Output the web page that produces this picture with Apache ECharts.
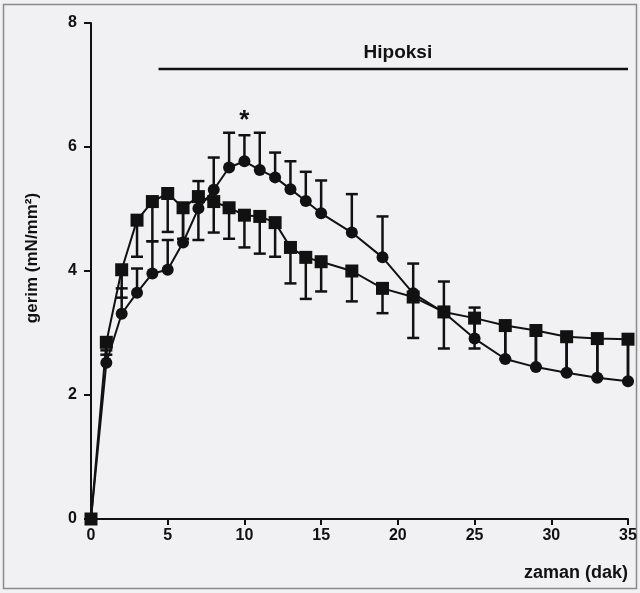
<!DOCTYPE html>
<html>
<head>
<meta charset="utf-8">
<script src="https://cdn.jsdelivr.net/npm/echarts@6/dist/echarts.min.js"></script>
<style>
html,body{margin:0;padding:0;background:#f1f1f3;}
#chart{width:640px;height:593px;}
</style>
</head>
<body>
<div id="chart"></div>
<script>
// time (minutes)
const timeMin = [0,1,2,3,4,5,6,7,8,9,10,11,12,13,14,15,17,19,21,23,25,27,29,31,33,35];
// square-marker series and its (downward) error
const squareVals = [0,2.85,4.02,4.82,5.12,5.25,5.02,5.2,5.12,5.02,4.9,4.88,4.78,4.38,4.22,4.15,4.0,3.72,3.58,3.34,3.24,3.12,3.04,2.94,2.91,2.90];
const squareErr  = [0,0.2,0.45,0.59,0.64,0.62,0.5,0.7,0.5,0.5,0.52,0.6,0.55,0.58,0.67,0.48,0.49,0.4,0.66,0.59,0.49,0.54,0.59,0.58,0.63,0.68];
// circle-marker series and its (upward) error
const circleVals = [0,2.52,3.31,3.65,3.96,4.02,4.46,5.01,5.31,5.67,5.77,5.63,5.51,5.32,5.13,4.93,4.62,4.22,3.64,3.33,2.91,2.58,2.45,2.36,2.28,2.22];
const circleErr  = [0,0.2,0.41,0.39,0.52,0.48,0.5,0.44,0.52,0.56,0.42,0.6,0.4,0.45,0.47,0.53,0.62,0.66,0.48,0.5,0.5,0.5,0.55,0.55,0.6,0.65];
// axis ticks
const xTicks = [0,5,10,15,20,25,30,35];
const yTicks = [0,2,4,6,8];
// annotations
const starPoint = [10, 6.42];
const hypoxiaLabel = 'Hipoksi';
const hypoxiaLabelPoint = [20, 7.52];
const hypoxiaBar = [[4.4, 7.26], [35, 7.26]];
const xName = 'zaman (dak)';
const yName = 'gerim (mN/mm²)';

const ink = '#111111';
const font = '"Liberation Sans", Arial, sans-serif';

const sqData = timeMin.map((t,i)=>[t, squareVals[i]]);
const ciData = timeMin.map((t,i)=>[t, circleVals[i]]);
const sqErrData = timeMin.map((t,i)=>[t, squareVals[i], squareVals[i]-squareErr[i]]);
const ciErrData = timeMin.map((t,i)=>[t, circleVals[i], circleVals[i]+circleErr[i]]);

function errRender(params, api){
  const x = api.value(0);
  const p0 = api.coord([x, api.value(1)]);
  const p1 = api.coord([x, api.value(2)]);
  const cap = 6;
  const st = {stroke: ink, lineWidth: 2.5};
  return {type:'group', children:[
    {type:'line', shape:{x1:p0[0], y1:p0[1], x2:p1[0], y2:p1[1]}, style:st},
    {type:'line', shape:{x1:p1[0]-cap, y1:p1[1], x2:p1[0]+cap, y2:p1[1]}, style:st}
  ]};
}

const labelStyle = (txt, size) => ({show:true, position:'inside', formatter:txt, color:ink, opacity:1,
  textBorderWidth:0, fontFamily:font, fontWeight:'bold', fontSize:size});

const chart = echarts.init(document.getElementById('chart'), null, {renderer:'canvas'});
chart.setOption({
  animation:false,
  backgroundColor:'#f1f1f3',
  grid:{left:91, right:12, top:23, bottom:74, containLabel:false},
  xAxis:{
    type:'value', min:0, max:35, interval:5,
    axisLine:{lineStyle:{color:ink, width:2}},
    axisTick:{show:true, length:6, lineStyle:{color:ink, width:2}},
    splitLine:{show:false},
    axisLabel:{color:ink, fontFamily:font, fontWeight:'bold', fontSize:16, margin:9,
      formatter:v=>xTicks.includes(v)?String(v):''}
  },
  yAxis:{
    type:'value', min:0, max:8, interval:2,
    axisLine:{show:true, lineStyle:{color:ink, width:2}},
    axisTick:{show:true, length:7, lineStyle:{color:ink, width:2}},
    splitLine:{show:false},
    axisLabel:{color:ink, fontFamily:font, fontWeight:'bold', fontSize:16, margin:14,
      formatter:v=>yTicks.includes(v)?String(v):''}
  },
  graphic:[
    {type:'rect', shape:{x:3.5,y:4.5,width:633,height:584}, style:{fill:'none', stroke:'#8a8a8a', lineWidth:1.5}, z:-1},
    {type:'text', x:628, y:573, style:{text:xName, fill:ink, font:'bold 18px '+font, textAlign:'right', textVerticalAlign:'middle'}},
    {type:'text', x:32, y:258, rotation:Math.PI/2, style:{text:yName, fill:ink, font:'bold 17px '+font, textAlign:'center', textVerticalAlign:'middle'}}
  ],
  series:[
    {type:'custom', renderItem:errRender, data:sqErrData, encode:{x:0,y:[1,2]}, z:2},
    {type:'custom', renderItem:errRender, data:ciErrData, encode:{x:0,y:[1,2]}, z:2},
    {type:'line', data:sqData, symbol:'rect', symbolSize:13, lineStyle:{color:ink, width:2}, itemStyle:{color:ink}, z:3},
    {type:'line', data:ciData, symbol:'circle', symbolSize:12, lineStyle:{color:ink, width:2}, itemStyle:{color:ink}, z:3},
    {type:'line', data:hypoxiaBar, symbol:'none', lineStyle:{color:ink, width:2.5}, z:3},
    {type:'scatter', data:[starPoint], symbolSize:0, itemStyle:{opacity:1, color:ink}, label:labelStyle('*', 26), z:4},
    {type:'scatter', data:[hypoxiaLabelPoint], symbolSize:0, itemStyle:{opacity:1, color:ink}, label:labelStyle(hypoxiaLabel, 19), z:4}
  ]
});
</script>
</body>
</html>
